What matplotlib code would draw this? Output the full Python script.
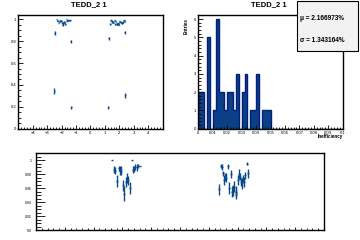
import numpy as np
import matplotlib
matplotlib.use('Agg')
import matplotlib.pyplot as plt
from matplotlib.patches import Rectangle
from matplotlib.ticker import MultipleLocator, FixedLocator

plt.rcParams['font.family'] = ['Liberation Sans', 'DejaVu Sans']

# efficiency vs eta, points close to 1
eta = [-2.36, -2.29, -2.26, -2.20, -2.13, -2.08, -2.04, -1.97, -1.93, -1.875,
       -1.84, -1.79, -1.74, -1.68, -1.64, -1.60, -1.55, -1.50, -1.45, -1.39,
       1.365, 1.41, 1.45, 1.48, 1.52, 1.55, 1.59, 1.68, 1.71, 1.76,
       1.82, 1.85, 1.89, 1.93, 1.96, 2.00, 2.04, 2.07, 2.12, 2.16,
       2.19, 2.23, 2.27, 2.32, 2.37]
eff = [1.0, 0.986, 0.985, 0.970, 0.988, 0.985, 0.985, 0.964, 0.952, 0.969,
       0.974, 0.971, 0.960, 1.0, 0.986, 0.987, 0.990, 0.990, 0.991, 0.991,
       0.958, 0.991, 0.990, 0.981, 0.971, 0.976, 0.975, 0.991, 0.960, 0.980,
       0.955, 0.957, 0.962, 0.955, 0.952, 0.971, 0.980, 0.976, 0.969, 0.967,
       0.974, 0.969, 0.978, 0.995, 0.981]
eff_err = [0.0, 0.005, 0.005, 0.008, 0.003, 0.006, 0.006, 0.008, 0.011, 0.007,
           0.007, 0.006, 0.009, 0.0, 0.005, 0.004, 0.004, 0.005, 0.003, 0.0,
           0.008, 0.003, 0.004, 0.004, 0.007, 0.006, 0.007, 0.004, 0.008, 0.006,
           0.008, 0.008, 0.008, 0.008, 0.008, 0.007, 0.007, 0.005, 0.006, 0.008,
           0.005, 0.007, 0.005, 0.002, 0.006]

# outliers, only visible on the full-range plot
eta_out = [-2.46, -1.37, -2.50, -1.33, 1.28, 2.37, 1.23, 2.41]
eff_out = [0.877, 0.800, 0.345, 0.195, 0.826, 0.880, 0.195, 0.305]
err_out = [0.018, 0.015, 0.028, 0.015, 0.015, 0.015, 0.015, 0.022]
eta_halfwidth = 0.035

# inefficiency histogram, 50 bins in [0, 0.1]
ineff_counts = [2, 2, 0, 5, 0, 1, 6, 2, 2, 1, 2, 2, 1, 3, 0, 2, 3, 0, 1, 1,
                3, 0, 1, 1, 1] + [0] * 25
ineff_edges = np.linspace(0, 0.1, 51)
mean_txt = '\u03bc = 2.166973%'
sigma_txt = '\u03c3 = 1.343164%'
title = 'TEDD_2 1'

W, H = 360, 240
blue = '#0a4a8c'
fill = '#0b3f86'
edge = '#00207a'


def px_axes(fig, x0, y0, x1, y1):
    return fig.add_axes([x0 / W, 1 - y1 / H, (x1 - x0) / W, (y1 - y0) / H])


def root_style(ax, xlen, ylen):
    for s in ax.spines.values():
        s.set_linewidth(1.0)
    ax.tick_params(which='both', direction='in', top=False, right=False,
                   labelsize=3, pad=1.5, width=0.6)
    ax.tick_params(axis='x', which='major', length=xlen)
    ax.tick_params(axis='x', which='minor', length=xlen / 2)
    ax.tick_params(axis='y', which='major', length=ylen)
    ax.tick_params(axis='y', which='minor', length=ylen / 2)


fig = plt.figure(figsize=(3.6, 2.4), dpi=100)

all_eta = eta + eta_out
all_eff = eff + eff_out
all_err = eff_err + err_out

# top left: efficiency vs eta
ax1 = px_axes(fig, 18.3, 14.7, 162.7, 128.7)
ax1.errorbar(all_eta, all_eff, yerr=all_err, xerr=eta_halfwidth, fmt='none',
             ecolor=blue, elinewidth=1.0, capsize=0)
ax1.set_xlim(-5, 5)
ax1.set_ylim(0, 1.042)
ax1.xaxis.set_major_locator(FixedLocator([-4, -3, -2, -1, 0, 1, 2, 3, 4]))
ax1.xaxis.set_minor_locator(MultipleLocator(0.2))
ax1.yaxis.set_major_locator(MultipleLocator(0.2))
ax1.yaxis.set_minor_locator(MultipleLocator(0.05))
ax1.yaxis.set_major_formatter(lambda v, p: f'{v:g}')
root_style(ax1, 3.2, 3.8)

# top right: inefficiency histogram
ax2 = px_axes(fig, 198.3, 14.7, 342.7, 128.7)
ax2.stairs(ineff_counts, ineff_edges, fill=True, color=fill)
ax2.stairs(ineff_counts, ineff_edges, color=edge, linewidth=1.0)
ax2.set_xlim(0, 0.1)
ax2.set_ylim(0, 6.24)
ax2.xaxis.set_major_locator(MultipleLocator(0.01))
ax2.xaxis.set_minor_locator(MultipleLocator(0.002))
ax2.yaxis.set_major_locator(MultipleLocator(1))
ax2.yaxis.set_minor_locator(MultipleLocator(0.2))
ax2.xaxis.set_major_formatter(lambda v, p: f'{v:g}')
root_style(ax2, 3.2, 3.8)
fig.text(186.5 / W, 1 - 26 / H, 'Entries', rotation=90, fontsize=3.3,
         fontweight='bold', ha='center', va='center')
fig.text(342.7 / W, 1 - 136.5 / H, 'Inefficiency', fontsize=3.3,
         fontweight='bold', ha='right', va='center')

# stats box
fig.patches.append(Rectangle((297 / W, 1 - 51 / H), 61 / W, 50 / H,
                             transform=fig.transFigure, facecolor='#f2f2f2',
                             edgecolor='black', linewidth=0.8, zorder=5))
fig.text(299.5 / W, 1 - 19 / H, mean_txt, fontsize=4.7, fontweight='bold',
         va='center', ha='left', zorder=6)
fig.text(299.5 / W, 1 - 40.5 / H, sigma_txt, fontsize=4.7, fontweight='bold',
         va='center', ha='left', zorder=6)

fig.text(89 / W, 1 - 5 / H, title, fontsize=5.5, fontweight='bold',
         ha='center', va='center')
fig.text(269 / W, 1 - 5 / H, title, fontsize=5.5, fontweight='bold',
         ha='center', va='center')

# bottom: zoomed efficiency vs eta
ax3 = px_axes(fig, 36, 153.3, 324, 230)
ax3.errorbar(all_eta, all_eff, yerr=all_err, xerr=eta_halfwidth, fmt='none',
             ecolor=blue, elinewidth=1.0, capsize=0)
ax3.set_xlim(-5, 5)
ax3.set_ylim(0.9, 1.0096)
ax3.xaxis.set_major_locator(FixedLocator([-4, -3, -2, -1, 0, 1, 2, 3, 4]))
ax3.xaxis.set_minor_locator(MultipleLocator(0.2))
ax3.yaxis.set_major_locator(MultipleLocator(0.02))
ax3.yaxis.set_minor_locator(MultipleLocator(0.005))
ax3.yaxis.set_major_formatter(lambda v, p: f'{v:g}')
ax3.set_xticklabels([])
root_style(ax3, 2.2, 6.5)
ax3.tick_params(axis='y', labelsize=2.5, pad=3)

fig.savefig('out.png', dpi=100)
